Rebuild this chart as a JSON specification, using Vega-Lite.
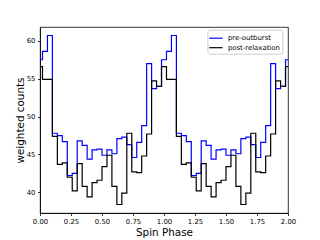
{
  "$schema": "https://vega.github.io/schema/vega-lite/v6.json",
  "width": 248,
  "height": 186,
  "autosize": {"type": "none"},
  "padding": {"left": 40, "top": 27, "right": 32, "bottom": 27},
  "background": "white",
  "config": {
    "font": "DejaVu Sans",
    "view": {"stroke": "#000000", "strokeWidth": 0.8},
    "axis": {"domainColor": "#000000", "domainWidth": 0.8, "tickColor": "#000000", "tickWidth": 0.8, "labelColor": "#000000", "titleColor": "#000000", "titleFontWeight": "normal", "grid": false}
  },
  "data": {"values": [
    {"phase": 0.00, "counts": 57.5, "series": "pre-outburst"},
    {"phase": 0.04, "counts": 58.6, "series": "pre-outburst"},
    {"phase": 0.08, "counts": 60.7, "series": "pre-outburst"},
    {"phase": 0.12, "counts": 47.8, "series": "pre-outburst"},
    {"phase": 0.16, "counts": 47.5, "series": "pre-outburst"},
    {"phase": 0.20, "counts": 46.7, "series": "pre-outburst"},
    {"phase": 0.24, "counts": 42.2, "series": "pre-outburst"},
    {"phase": 0.28, "counts": 42.5, "series": "pre-outburst"},
    {"phase": 0.32, "counts": 46.8, "series": "pre-outburst"},
    {"phase": 0.36, "counts": 46.2, "series": "pre-outburst"},
    {"phase": 0.40, "counts": 44.4, "series": "pre-outburst"},
    {"phase": 0.44, "counts": 45.6, "series": "pre-outburst"},
    {"phase": 0.48, "counts": 45.7, "series": "pre-outburst"},
    {"phase": 0.52, "counts": 44.9, "series": "pre-outburst"},
    {"phase": 0.56, "counts": 45.6, "series": "pre-outburst"},
    {"phase": 0.60, "counts": 45.1, "series": "pre-outburst"},
    {"phase": 0.64, "counts": 47.1, "series": "pre-outburst"},
    {"phase": 0.68, "counts": 47.3, "series": "pre-outburst"},
    {"phase": 0.72, "counts": 46.3, "series": "pre-outburst"},
    {"phase": 0.76, "counts": 44.6, "series": "pre-outburst"},
    {"phase": 0.80, "counts": 46.6, "series": "pre-outburst"},
    {"phase": 0.84, "counts": 48.8, "series": "pre-outburst"},
    {"phase": 0.88, "counts": 57.0, "series": "pre-outburst"},
    {"phase": 0.92, "counts": 53.7, "series": "pre-outburst"},
    {"phase": 0.96, "counts": 54.0, "series": "pre-outburst"},
    {"phase": 1.00, "counts": 57.5, "series": "pre-outburst"},
    {"phase": 1.04, "counts": 58.6, "series": "pre-outburst"},
    {"phase": 1.08, "counts": 60.7, "series": "pre-outburst"},
    {"phase": 1.12, "counts": 47.8, "series": "pre-outburst"},
    {"phase": 1.16, "counts": 47.5, "series": "pre-outburst"},
    {"phase": 1.20, "counts": 46.7, "series": "pre-outburst"},
    {"phase": 1.24, "counts": 42.2, "series": "pre-outburst"},
    {"phase": 1.28, "counts": 42.5, "series": "pre-outburst"},
    {"phase": 1.32, "counts": 46.8, "series": "pre-outburst"},
    {"phase": 1.36, "counts": 46.2, "series": "pre-outburst"},
    {"phase": 1.40, "counts": 44.4, "series": "pre-outburst"},
    {"phase": 1.44, "counts": 45.6, "series": "pre-outburst"},
    {"phase": 1.48, "counts": 45.7, "series": "pre-outburst"},
    {"phase": 1.52, "counts": 44.9, "series": "pre-outburst"},
    {"phase": 1.56, "counts": 45.6, "series": "pre-outburst"},
    {"phase": 1.60, "counts": 45.1, "series": "pre-outburst"},
    {"phase": 1.64, "counts": 47.1, "series": "pre-outburst"},
    {"phase": 1.68, "counts": 47.3, "series": "pre-outburst"},
    {"phase": 1.72, "counts": 46.3, "series": "pre-outburst"},
    {"phase": 1.76, "counts": 44.6, "series": "pre-outburst"},
    {"phase": 1.80, "counts": 46.6, "series": "pre-outburst"},
    {"phase": 1.84, "counts": 48.8, "series": "pre-outburst"},
    {"phase": 1.88, "counts": 57.0, "series": "pre-outburst"},
    {"phase": 1.92, "counts": 53.7, "series": "pre-outburst"},
    {"phase": 1.96, "counts": 54.0, "series": "pre-outburst"},
    {"phase": 2.00, "counts": 57.5, "series": "pre-outburst"},
    {"phase": 0.00, "counts": 56.6, "series": "post-relaxation"},
    {"phase": 0.04, "counts": 54.9, "series": "post-relaxation"},
    {"phase": 0.08, "counts": 54.9, "series": "post-relaxation"},
    {"phase": 0.12, "counts": 47.4, "series": "post-relaxation"},
    {"phase": 0.16, "counts": 43.7, "series": "post-relaxation"},
    {"phase": 0.20, "counts": 43.9, "series": "post-relaxation"},
    {"phase": 0.24, "counts": 42.0, "series": "post-relaxation"},
    {"phase": 0.28, "counts": 40.2, "series": "post-relaxation"},
    {"phase": 0.32, "counts": 43.8, "series": "post-relaxation"},
    {"phase": 0.36, "counts": 40.8, "series": "post-relaxation"},
    {"phase": 0.40, "counts": 39.4, "series": "post-relaxation"},
    {"phase": 0.44, "counts": 41.3, "series": "post-relaxation"},
    {"phase": 0.48, "counts": 41.6, "series": "post-relaxation"},
    {"phase": 0.52, "counts": 43.4, "series": "post-relaxation"},
    {"phase": 0.56, "counts": 44.9, "series": "post-relaxation"},
    {"phase": 0.60, "counts": 40.8, "series": "post-relaxation"},
    {"phase": 0.64, "counts": 38.4, "series": "post-relaxation"},
    {"phase": 0.68, "counts": 39.9, "series": "post-relaxation"},
    {"phase": 0.72, "counts": 47.8, "series": "post-relaxation"},
    {"phase": 0.76, "counts": 42.7, "series": "post-relaxation"},
    {"phase": 0.80, "counts": 42.6, "series": "post-relaxation"},
    {"phase": 0.84, "counts": 44.8, "series": "post-relaxation"},
    {"phase": 0.88, "counts": 47.7, "series": "post-relaxation"},
    {"phase": 0.92, "counts": 54.7, "series": "post-relaxation"},
    {"phase": 0.96, "counts": 54.0, "series": "post-relaxation"},
    {"phase": 1.00, "counts": 56.6, "series": "post-relaxation"},
    {"phase": 1.04, "counts": 54.9, "series": "post-relaxation"},
    {"phase": 1.08, "counts": 54.9, "series": "post-relaxation"},
    {"phase": 1.12, "counts": 47.4, "series": "post-relaxation"},
    {"phase": 1.16, "counts": 43.7, "series": "post-relaxation"},
    {"phase": 1.20, "counts": 43.9, "series": "post-relaxation"},
    {"phase": 1.24, "counts": 42.0, "series": "post-relaxation"},
    {"phase": 1.28, "counts": 40.2, "series": "post-relaxation"},
    {"phase": 1.32, "counts": 43.8, "series": "post-relaxation"},
    {"phase": 1.36, "counts": 40.8, "series": "post-relaxation"},
    {"phase": 1.40, "counts": 39.4, "series": "post-relaxation"},
    {"phase": 1.44, "counts": 41.3, "series": "post-relaxation"},
    {"phase": 1.48, "counts": 41.6, "series": "post-relaxation"},
    {"phase": 1.52, "counts": 43.4, "series": "post-relaxation"},
    {"phase": 1.56, "counts": 44.9, "series": "post-relaxation"},
    {"phase": 1.60, "counts": 40.8, "series": "post-relaxation"},
    {"phase": 1.64, "counts": 38.4, "series": "post-relaxation"},
    {"phase": 1.68, "counts": 39.9, "series": "post-relaxation"},
    {"phase": 1.72, "counts": 47.8, "series": "post-relaxation"},
    {"phase": 1.76, "counts": 42.7, "series": "post-relaxation"},
    {"phase": 1.80, "counts": 42.6, "series": "post-relaxation"},
    {"phase": 1.84, "counts": 44.8, "series": "post-relaxation"},
    {"phase": 1.88, "counts": 47.7, "series": "post-relaxation"},
    {"phase": 1.92, "counts": 54.7, "series": "post-relaxation"},
    {"phase": 1.96, "counts": 54.0, "series": "post-relaxation"},
    {"phase": 2.00, "counts": 56.6, "series": "post-relaxation"}
  ]},
  "mark": {"type": "line", "interpolate": "step", "strokeWidth": 1.2, "clip": true},
  "encoding": {
    "x": {
      "field": "phase", "type": "quantitative",
      "scale": {"domain": [0, 2], "nice": false, "zero": false},
      "axis": {"title": "Spin Phase", "values": [0, 0.25, 0.5, 0.75, 1, 1.25, 1.5, 1.75, 2], "format": ".2f",
               "labelFontSize": 6.9, "tickSize": 2.5, "labelPadding": 2.5, "labelFlush": false,
               "titleFontSize": 10.4, "titleX": 124, "titleY": 22.7, "titleBaseline": "alphabetic", "titleAlign": "center"}
    },
    "y": {
      "field": "counts", "type": "quantitative",
      "scale": {"domain": [37.28, 61.82], "nice": false, "zero": false},
      "axis": {"title": "weighted counts", "values": [40, 45, 50, 55, 60], "format": "d",
               "labelFontSize": 6.9, "tickSize": 2.5, "labelPadding": 2.5, "labelFlush": false,
               "titleFontSize": 10.4, "titleX": -17, "titleY": 93, "titleAngle": -90, "titleBaseline": "alphabetic", "titleAlign": "center"}
    },
    "color": {
      "field": "series", "type": "nominal",
      "scale": {"domain": ["pre-outburst", "post-relaxation"], "range": ["#0000ff", "#000000"]},
      "legend": {"orient": "none", "legendX": 167.4, "legendY": 2.7, "title": null,
                 "symbolType": "M-1.33,0L1.33,0", "symbolSize": 100, "symbolStrokeWidth": 1.2,
                 "labelFontSize": 6.9, "labelOffset": 6, "labelColor": "#000000",
                 "padding": 2.5, "rowPadding": 0.5,
                 "strokeColor": "#cccccc", "fillColor": "rgba(255,255,255,0.8)", "cornerRadius": 2}
    }
  }
}
